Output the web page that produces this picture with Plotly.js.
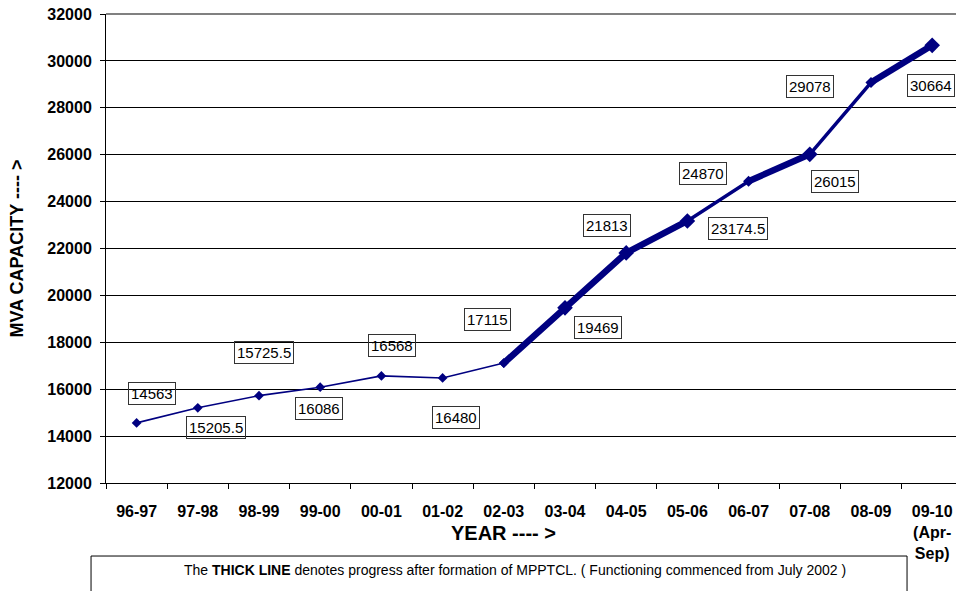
<!DOCTYPE html>
<html>
<head>
<meta charset="utf-8">
<script src="https://cdn.plot.ly/plotly-3.0.1.min.js"></script>
<style>html,body{margin:0;padding:0;background:#fff;overflow:hidden}#chart{width:956px;height:591px}</style>
</head>
<body>
<div id="chart"></div>
<script>
// ---- data ----
const years = ["96-97","97-98","98-99","99-00","00-01","01-02","02-03","03-04","04-05","05-06","06-07","07-08","08-09","09-10<br>(Apr-<br>Sep)"];
const capacity = [14563, 15205.5, 15725.5, 16086, 16568, 16480, 17115, 19469, 21813, 23174.5, 24870, 26015, 29078, 30664];
const labels = ["14563","15205.5","15725.5","16086","16568","16480","17115","19469","21813","23174.5","24870","26015","29078","30664"];
const noteText = "The <b>THICK LINE</b> denotes progress after formation of MPPTCL. ( Functioning commenced from July 2002 )";

// ---- style / position settings ----
const thinEnd = 6;              // thin line runs up to index 6 (02-03)
const heavySegments = [[6,9],[10,11],[12,13]];
const bigMarkerIdx = [7,8,9,11,13];
const labelShift = [[15,-29],[18,20],[5,-43],[-1,21],[11,-30],[13,40],[-16,-44],[33,20],[-19,-27],[51,8],[-46,-7.5],[25,27],[-60.5,4],[-1,40]];
const NAVY = "#000080";
const FONT = "Liberation Sans, Arial, sans-serif";

const thinX = years.slice(0, thinEnd+1), thinY = capacity.slice(0, thinEnd+1);
const thickX = years.slice(thinEnd), thickY = capacity.slice(thinEnd);
const thickSizes = thickX.map((_, k) => { const i = k + thinEnd; return i === thinEnd ? 7.5 : (bigMarkerIdx.includes(i) ? 12 : 8.5); });

const heavyX = [], heavyY = [];
heavySegments.forEach((s, n) => {
  if (n > 0) { heavyX.push(null); heavyY.push(null); }
  for (let i = s[0]; i <= s[1]; i++) { heavyX.push(years[i]); heavyY.push(capacity[i]); }
});

const traces = [
  {x: thinX, y: thinY, type: "scatter", mode: "lines+markers",
   line: {color: NAVY, width: 1.6}, marker: {symbol: "diamond", size: 7.5, color: NAVY, opacity: 1, line: {width: 0}}, hoverinfo: "skip"},
  {x: heavyX, y: heavyY, type: "scatter", mode: "lines", connectgaps: false,
   line: {color: NAVY, width: 6.5}, hoverinfo: "skip"},
  {x: thickX, y: thickY, type: "scatter", mode: "lines+markers",
   line: {color: NAVY, width: 3.5}, marker: {symbol: "diamond", size: thickSizes, color: NAVY, opacity: 1, line: {width: 0}}, hoverinfo: "skip"}
];

const annotations = capacity.map((v, i) => ({
  x: years[i], y: v, xref: "x", yref: "y", text: labels[i], showarrow: false,
  xshift: labelShift[i][0], yshift: -labelShift[i][1],
  font: {family: FONT, size: 15, color: "#000"},
  bgcolor: "rgba(255,255,255,0)", bordercolor: "#333", borderwidth: 1, borderpad: 2
}));
annotations.push({
  xref: "paper", yref: "paper", x: 0.468, y: -0.1066, text: "<b>YEAR ---- ></b>", showarrow: false,
  xanchor: "center", yanchor: "middle", font: {family: FONT, size: 20, color: "#000"}
});
annotations.push({
  xref: "paper", yref: "paper", x: 0.481, y: -0.1855, text: noteText, showarrow: false,
  xanchor: "center", yanchor: "middle", font: {family: FONT, size: 14, color: "#000"}
});

const layout = {
  width: 956, height: 591,
  margin: {l: 106, r: 0, t: 14, b: 108},
  paper_bgcolor: "#fff", plot_bgcolor: "#fff",
  showlegend: false,
  font: {family: FONT, color: "#000"},
  xaxis: {
    type: "category", range: [-0.5, 13.389], fixedrange: true,
    showline: true, linecolor: "#000", linewidth: 1,
    ticks: "outside", tickson: "boundaries", ticklen: 5, tickcolor: "#000",
    showgrid: false, zeroline: false,
    tickfont: {family: FONT, size: 16, weight: "bold", color: "#000"},
    ticklabelstandoff: 14, automargin: false
  },
  yaxis: {
    range: [12000, 32000], dtick: 2000, tickformat: "d", fixedrange: true,
    showline: true, linecolor: "#000", linewidth: 1,
    ticks: "outside", ticklen: 5, tickcolor: "#000",
    showgrid: true, gridcolor: "#000", gridwidth: 1, zeroline: false,
    tickfont: {family: FONT, size: 16, weight: "bold", color: "#000"},
    ticklabelstandoff: 5, automargin: false,
    title: {text: "<b>MVA CAPACITY ---- ></b>", font: {family: FONT, size: 18, color: "#000"}, standoff: 18}
  },
  shapes: [
    {type: "line", xref: "paper", yref: "paper", x0: 0, x1: 1, y0: 1, y1: 1, line: {color: "#808080", width: 2}, layer: "above"},
    {type: "rect", xref: "paper", yref: "paper", x0: -0.0176, x1: 0.9424, y0: -0.1557, y1: -0.30, line: {color: "#000", width: 1}, fillcolor: "rgba(0,0,0,0)"}
  ],
  annotations: annotations
};

Plotly.newPlot("chart", traces, layout, {displayModeBar: false, staticPlot: true});
</script>
</body>
</html>
